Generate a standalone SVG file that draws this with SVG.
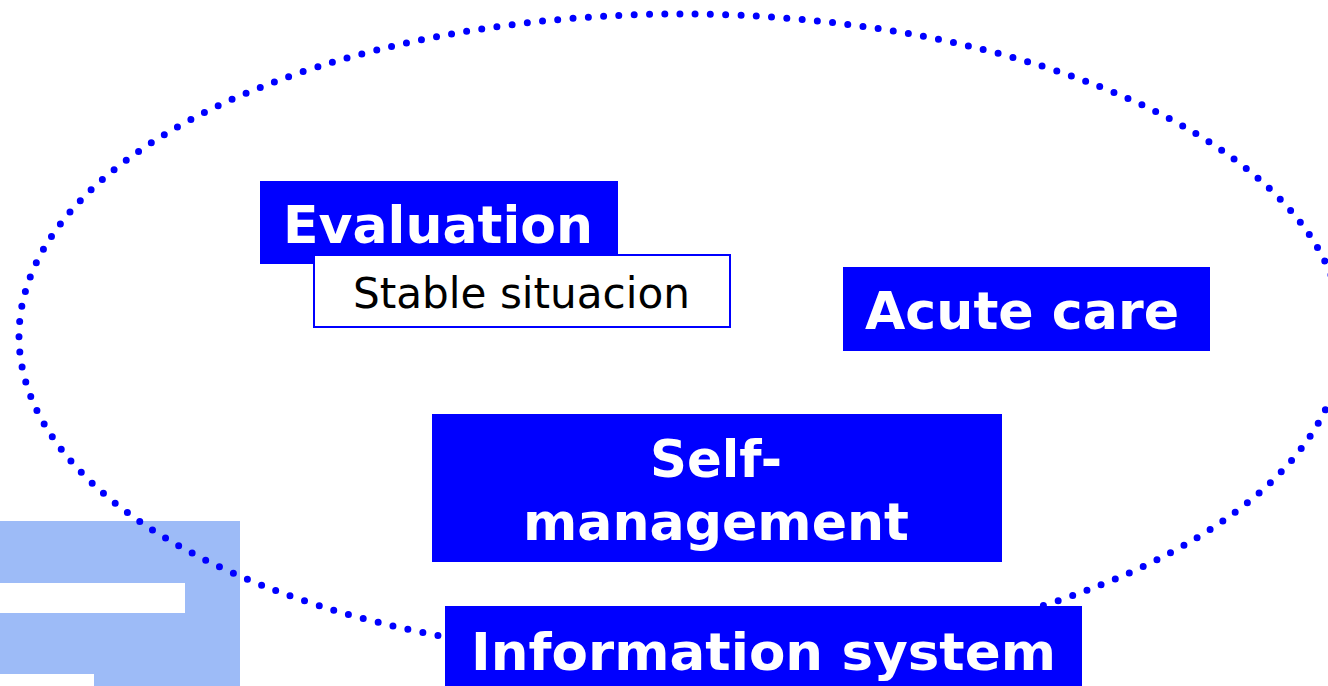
<svg xmlns="http://www.w3.org/2000/svg" width="1328" height="686" viewBox="0 0 1328 686">
<style>
.box{fill:#0000FF}
.lbl{font-family:"DejaVu Sans",Verdana,sans-serif;font-weight:bold;fill:#FFFFFF;font-size:51px}
.sub{font-family:"DejaVu Sans",Verdana,sans-serif;fill:#000000;font-size:42px}
</style>
<rect width="1328" height="686" fill="#FFFFFF"/>
<g id="deco">
<rect x="0" y="521" width="240" height="165" fill="#9DBBF7"/>
<rect x="0" y="583" width="185" height="30" fill="#FFFFFF"/>
<rect x="0" y="674" width="94" height="12" fill="#FFFFFF"/>
</g>
<g id="connectors">
<ellipse cx="681" cy="336" rx="662" ry="322" fill="none" stroke="#0000FF" stroke-width="7" stroke-linecap="round" stroke-dasharray="0 15.3"/>
</g>
<g id="evaluation">
<rect class="box" x="260" y="181" width="358" height="83"/>
<text class="lbl" x="283" y="243" textLength="310" lengthAdjust="spacingAndGlyphs">Evaluation</text>
</g>
<g id="stable">
<rect x="314" y="255" width="416" height="72" fill="#FFFFFF" stroke="#0000FF" stroke-width="2"/>
<text class="sub" x="353" y="308" textLength="337" lengthAdjust="spacingAndGlyphs">Stable situacion</text>
</g>
<g id="acute">
<rect class="box" x="843" y="267" width="367" height="84"/>
<text class="lbl" x="865" y="329" textLength="314" lengthAdjust="spacingAndGlyphs">Acute care</text>
</g>
<g id="selfmanagement">
<rect class="box" x="432" y="414" width="570" height="148"/>
<text class="lbl" x="650" y="477" textLength="132" lengthAdjust="spacingAndGlyphs">Self-</text>
<text class="lbl" x="523" y="540" textLength="386" lengthAdjust="spacingAndGlyphs">management</text>
</g>
<g id="information">
<rect class="box" x="445" y="606" width="637" height="80"/>
<text class="lbl" x="471" y="670" textLength="585" lengthAdjust="spacingAndGlyphs">Information system</text>
</g>
</svg>
